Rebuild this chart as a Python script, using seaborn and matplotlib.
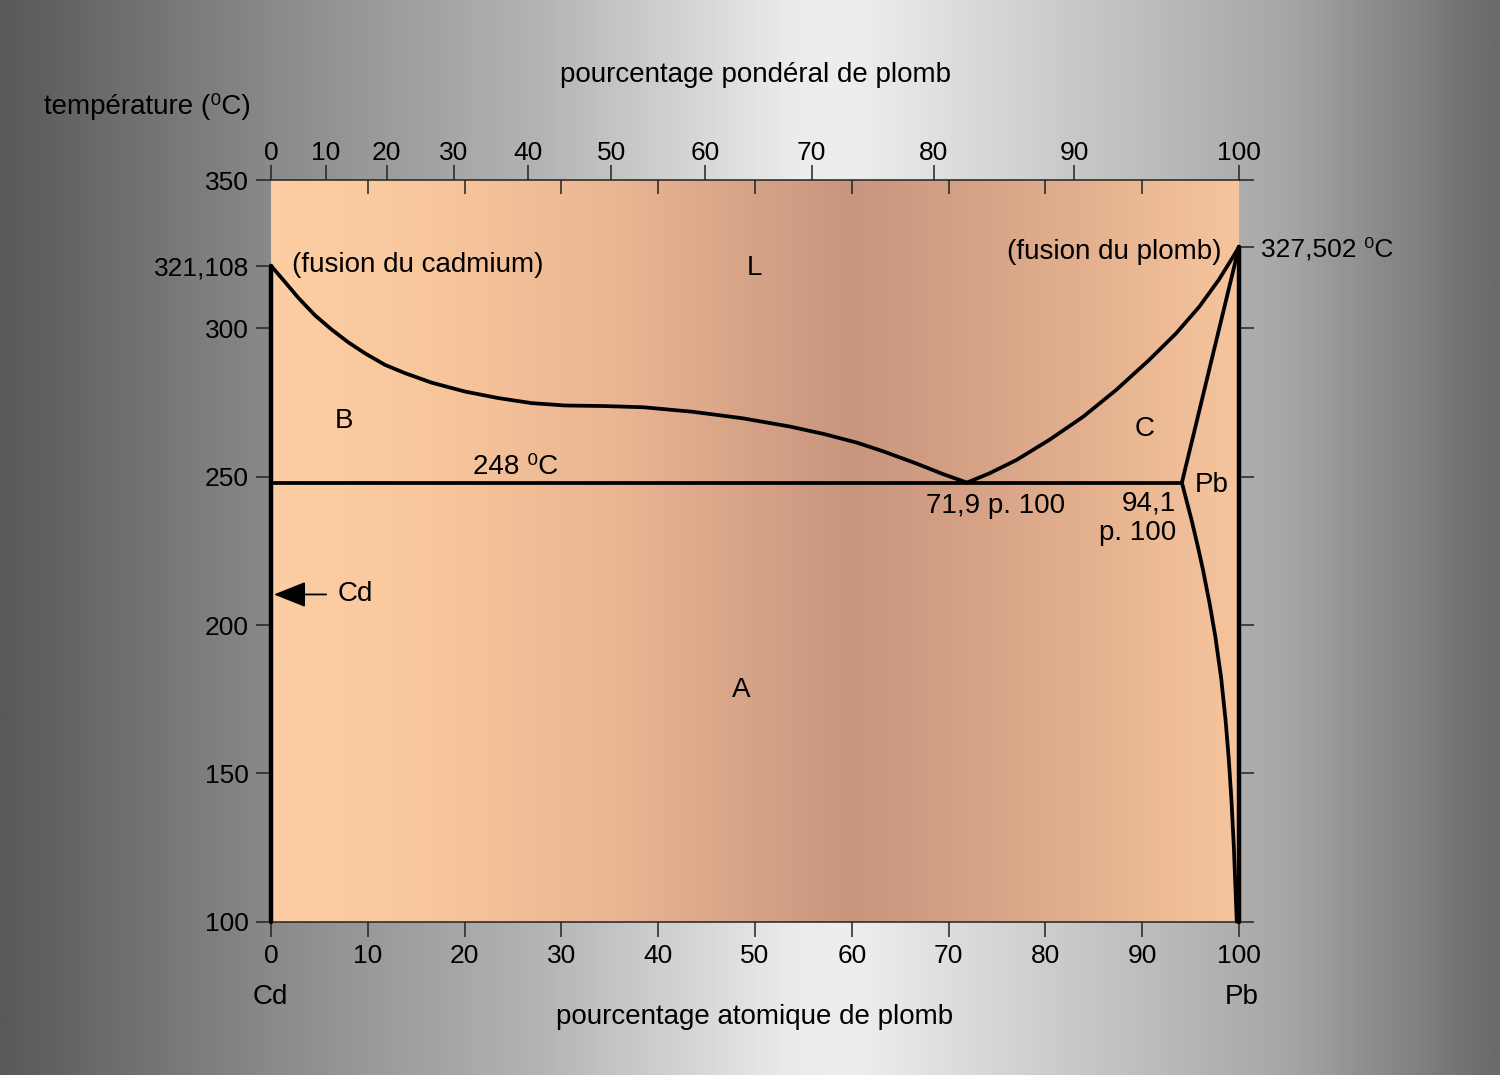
import numpy as np
import pandas as pd
import matplotlib
matplotlib.use("Agg")
import matplotlib.pyplot as plt
import seaborn as sns
from matplotlib.colors import LinearSegmentedColormap

# phase boundaries, x = atomic % Pb, y = temperature (°C)
liq_cd_x = [0, 1.45, 2.82, 4.54, 6.26, 7.98, 9.70, 11.77, 13.84, 16.59, 20.03, 23.47, 26.92,
            30.36, 34.5, 38.46, 43.5, 48.7, 53.6, 57.1, 60.5, 63.2, 66.7, 69.4, 71.9]
liq_cd_y = [321.108, 315.6, 310.3, 304.4, 299.6, 295.3, 291.6, 287.7, 284.9, 281.7, 278.7, 276.5, 274.8,
            274.0, 273.8, 273.4, 271.9, 269.7, 266.9, 264.4, 261.5, 258.6, 254.4, 250.9, 248]
liq_pb_x = [71.9, 74.2, 77.0, 80.4, 83.9, 87.3, 90.7, 93.5, 95.9, 97.9, 99.5, 100]
liq_pb_y = [248, 251.1, 255.6, 262.4, 270.2, 279.2, 289.3, 298.3, 307.3, 316.3, 324.7, 327.502]
solidus_x = [94.1, 100]
solidus_y = [248, 327.502]
solvus_x = [94.1, 95.1, 95.78, 96.28, 96.98, 97.56, 98.16, 98.61, 98.94, 99.22, 99.47, 99.77]
solvus_y = [248, 235.4, 226, 218.6, 207, 196, 182, 168, 155, 141, 125, 100]
eut_x = [0, 94.1]
eut_y = [248, 248]
cd_x = [0, 0]
cd_y = [100, 321.108]
pb_x = [100, 100]
pb_y = [100, 327.502]

at_ticks = [0, 10, 20, 30, 40, 50, 60, 70, 80, 90, 100]
wt_ticks = [0, 10, 20, 30, 40, 50, 60, 70, 80, 90, 100]
left_ticks = [100, 150, 200, 250, 300, 321.108, 350]
left_labels = ["100", "150", "200", "250", "300", "321,108", "350"]
right_ticks = [100, 150, 200, 250, 300, 327.502, 350]
right_labels = ["", "", "", "", "", "327,502 \u2070C", ""]

M_CD, M_PB = 112.41, 207.2


def wt_to_at(w):
    w = np.clip(np.asarray(w, dtype=float), 0, 100)
    a = w / M_PB
    return 100 * a / (a + (100 - w) / M_CD)


def at_to_wt(a):
    a = np.clip(np.asarray(a, dtype=float), 0, 100)
    m = a * M_PB
    return 100 * m / (m + (100 - a) * M_CD)


sns.set_style("ticks")
plt.rcParams["font.family"] = ["Liberation Sans", "DejaVu Sans"]
plt.rcParams["text.color"] = "black"
plt.rcParams["xtick.color"] = "black"
plt.rcParams["ytick.color"] = "black"
FS = 20
TFS = 19

fig = plt.figure(figsize=(15, 10.75), dpi=100)

# gray page background
bg = fig.add_axes([0, 0, 1, 1], zorder=-5)
bg_cmap = LinearSegmentedColormap.from_list("bg", [
    (0.0, "#595959"), (0.18, "#8a8a8a"), (0.36, "#b4b4b4"), (0.53, "#ececec"),
    (0.57, "#eeeeee"), (0.7, "#cdcdcd"), (0.86, "#a6a6a6"), (1.0, "#6a6a6a")])
bg.imshow(np.linspace(0, 1, 600)[None, :], cmap=bg_cmap, aspect="auto", extent=[0, 1, 0, 1])
bg.set_axis_off()

ax = fig.add_axes([271 / 1500, 1 - 921.7 / 1075, 968 / 1500, 741.7 / 1075])
plot_cmap = LinearSegmentedColormap.from_list("pl", [
    (0.0, "#fdcea3"), (0.15, "#f9c79d"), (0.35, "#ebb693"), (0.6, "#c8957f"),
    (0.75, "#d8a588"), (0.9, "#ebb894"), (1.0, "#f5c49c")])
ax.imshow(np.linspace(0, 1, 600)[None, :], cmap=plot_cmap, aspect="auto",
          extent=[0, 100, 100, 350], zorder=0)

lw = 2.7
for xs, ys, w in [(liq_cd_x, liq_cd_y, lw), (liq_pb_x, liq_pb_y, lw), (solidus_x, solidus_y, lw),
                  (solvus_x, solvus_y, lw), (eut_x, eut_y, lw), (cd_x, cd_y, 3.2), (pb_x, pb_y, 3.2)]:
    df = pd.DataFrame({"x": xs, "y": ys})
    sns.lineplot(data=df, x="x", y="y", sort=False, estimator=None, color="black",
                 linewidth=w, ax=ax, zorder=3, clip_on=False)

ax.set_xlim(0, 100)
ax.set_ylim(100, 350)
ax.set_xlabel("")
ax.set_ylabel("")

ax.set_xticks(at_ticks)
ax.set_xticklabels([str(t) for t in at_ticks], fontsize=TFS)
ax.set_yticks(left_ticks)
ax.set_yticklabels(left_labels, fontsize=TFS)
ax.tick_params(axis="both", direction="out", length=11, width=1.1, pad=5, color="#222222")
for s in ["left", "right"]:
    ax.spines[s].set_visible(False)
for s in ["top", "bottom"]:
    ax.spines[s].set_linewidth(1.1)
    ax.spines[s].set_color("#222222")

# weight percent axis on top
top = ax.secondary_xaxis("top", functions=(at_to_wt, wt_to_at))
top.set_xticks(wt_ticks)
top.set_xticklabels([str(t) for t in wt_ticks], fontsize=TFS)
top.tick_params(direction="out", length=11, width=1.1, pad=0, color="#222222")
top.spines["top"].set_visible(False)

# atomic ticks pointing inward along top
top_in = ax.secondary_xaxis("top", functions=(lambda v: v, lambda v: v))
top_in.set_xticks(at_ticks[1:-1])
top_in.set_xticklabels([])
top_in.tick_params(direction="in", length=10, width=1.1, color="#222222")
top_in.spines["top"].set_visible(False)

right = ax.secondary_yaxis("right")
right.set_yticks(right_ticks)
right.set_yticklabels(right_labels, fontsize=TFS)
right.tick_params(direction="out", length=11, width=1.1, pad=5, color="#222222")
right.spines["right"].set_visible(False)

# labels inside the diagram
ax.text(2.2, 321.4, "(fusion du cadmium)", fontsize=FS, ha="left", va="center", zorder=4)
ax.text(49.9, 320.3, "L", fontsize=FS, ha="center", va="center", zorder=4)
ax.text(98.2, 325.7, "(fusion du plomb)", fontsize=FS, ha="right", va="center", zorder=4)
ax.text(7.5, 268.8, "B", fontsize=FS, ha="center", va="center", zorder=4)
ax.text(90.3, 266.1, "C", fontsize=FS, ha="center", va="center", zorder=4)
ax.text(25.3, 253.3, "248 \u2070C", fontsize=FS, ha="center", va="center", zorder=4)
ax.text(74.9, 240.1, "71,9 p. 100", fontsize=FS, ha="center", va="center", zorder=4)
ax.text(93.5, 240.8, "94,1", fontsize=FS, ha="right", va="center", zorder=4)
ax.text(93.5, 231.0, "p. 100", fontsize=FS, ha="right", va="center", zorder=4)
ax.text(97.2, 247.2, "Pb", fontsize=FS, ha="center", va="center", zorder=4)
ax.text(48.6, 178.1, "A", fontsize=FS, ha="center", va="center", zorder=4)
ax.annotate("Cd", xy=(0.3, 210.3), xytext=(6.9, 210.3), fontsize=FS, ha="left", va="center",
            zorder=4, arrowprops=dict(arrowstyle="-|>,head_length=1.0,head_width=0.4",
                                      color="black", lw=1.3, shrinkA=6, shrinkB=0))

fig.text(147 / 1500, 1 - 107 / 1075, "temp\u00e9rature (\u2070C)", fontsize=FS, ha="center", va="center")
fig.text(755 / 1500, 1 - 75 / 1075, "pourcentage pond\u00e9ral de plomb", fontsize=FS, ha="center", va="center")
fig.text(755 / 1500, 1 - 1017 / 1075, "pourcentage atomique de plomb", fontsize=FS, ha="center", va="center")
fig.text(270 / 1500, 1 - 997 / 1075, "Cd", fontsize=FS, ha="center", va="center")
fig.text(1242 / 1500, 1 - 997 / 1075, "Pb", fontsize=FS, ha="center", va="center")

plt.savefig("out.png", dpi=100)
